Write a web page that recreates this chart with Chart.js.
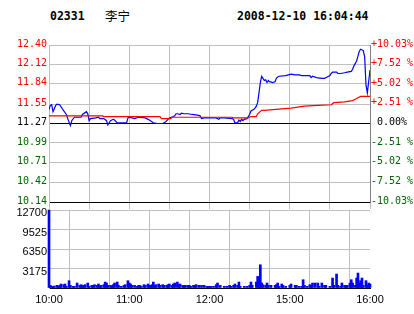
<!DOCTYPE html>
<html>
<head>
<meta charset="utf-8">
<script src="https://cdn.jsdelivr.net/npm/chart.js@4.4.1/dist/chart.umd.min.js"></script>
<style>
  body { margin: 0; background: #fff; width: 414px; height: 314px; overflow: hidden; position: relative; }
  .hd { position: absolute; top: 10px; font: bold 11.5px/12px "DejaVu Sans Mono", monospace; color: #000; white-space: pre; }
  .cn { font: 12.5px/12px "Noto Sans CJK SC", sans-serif; }
  canvas { position: absolute; left: 0; }
</style>
</head>
<body>
<div class="hd" style="left:50px">02331</div>
<div class="hd cn" style="left:105px">李宁</div>
<div class="hd" style="left:237px">2008-12-10 16:04:44</div>
<canvas id="price" width="414" height="210" style="top:0"></canvas>
<canvas id="vol" width="414" height="114" style="top:200px"></canvas>
<script>
// minutes since 10:00 (lunch break 12:30-14:30 removed, 240 = 16:00)
var priceMinutes = [
  0, 1, 2, 3, 5, 6, 8, 10, 13, 14,
  16, 17, 19, 24, 25, 28, 29, 30, 31, 35,
  37, 38, 41, 43, 44, 46, 48, 49, 51, 58,
  59, 60, 64, 67, 72, 73, 75, 78, 81, 85,
  87, 89, 90, 93, 94, 95, 96, 98, 99, 101,
  104, 107, 111, 113, 114, 116, 120, 125, 127, 128,
  131, 137, 138, 139, 141, 142, 143, 144, 145, 146,
  148, 149, 150, 151, 153, 154, 155, 156, 157, 158,
  159, 160, 161, 162, 163, 164, 165, 166, 167, 169,
  170, 171, 172, 177, 179, 181, 184, 187, 189, 195,
  196, 197, 200, 204, 206, 208, 210, 211, 212, 215,
  216, 218, 221, 223, 226, 227, 228, 230, 231, 232,
  233, 235, 236, 237, 238, 239, 240
];
var priceValues = [
  11.47, 11.53, 11.54, 11.44, 11.53, 11.55, 11.54, 11.48, 11.40, 11.34,
  11.24, 11.31, 11.36, 11.36, 11.40, 11.44, 11.41, 11.31, 11.34, 11.35,
  11.36, 11.34, 11.34, 11.31, 11.25, 11.31, 11.33, 11.32, 11.28, 11.28,
  11.35, 11.36, 11.34, 11.36, 11.35, 11.34, 11.32, 11.28, 11.27, 11.27,
  11.29, 11.33, 11.35, 11.37, 11.38, 11.41, 11.41, 11.40, 11.42, 11.41,
  11.41, 11.40, 11.39, 11.38, 11.34, 11.35, 11.35, 11.35, 11.33, 11.35,
  11.35, 11.34, 11.33, 11.28, 11.28, 11.32, 11.30, 11.33, 11.31, 11.33,
  11.34, 11.37, 11.40, 11.45, 11.47, 11.49, 11.52, 11.57, 11.71, 11.86,
  11.95, 11.92, 11.89, 11.90, 11.86, 11.89, 11.87, 11.87, 11.86, 11.87,
  11.92, 11.94, 11.95, 11.96, 11.97, 11.98, 11.97, 11.97, 11.96, 11.96,
  11.93, 11.95, 11.93, 11.92, 11.92, 11.94, 11.96, 11.99, 12.01, 12.01,
  11.99, 11.99, 12.00, 12.01, 12.02, 12.05, 12.10, 12.17, 12.24, 12.31,
  12.34, 12.32, 12.23, 11.83, 11.71, 11.87, 12.04
];
var avgMinutes = [0, 40, 41, 83, 84, 91, 92, 137, 138, 149, 151, 155, 156, 159, 161, 174, 181, 191, 201, 211, 213, 221, 227, 230, 233, 240];
var avgValues = [11.38, 11.38, 11.37, 11.37, 11.34, 11.34, 11.36, 11.36, 11.35, 11.35, 11.37, 11.37, 11.41, 11.46, 11.46, 11.48, 11.49, 11.52, 11.53, 11.54, 11.57, 11.58, 11.60, 11.63, 11.66, 11.66];

var volMinutes = [
  0, 1, 2, 3, 4, 6, 7, 8, 9, 11, 12, 13, 15, 16, 18, 19, 21, 23, 24, 25,
  26, 27, 29, 30, 32, 33, 34, 36, 37, 38, 39, 41, 42, 43, 44, 46, 47, 48, 49, 51,
  52, 54, 56, 57, 59, 60, 61, 62, 64, 66, 67, 68, 69, 71, 72, 74, 75, 76, 77, 78,
  79, 80, 82, 83, 85, 86, 88, 89, 90, 92, 93, 94, 96, 97, 98, 100, 101, 102, 104, 105,
  106, 108, 109, 110, 112, 114, 116, 118, 119, 120, 121, 123, 125, 126, 128, 131, 133, 135, 136, 138,
  139, 141, 142, 143, 146, 148, 150, 151, 152, 155, 156, 157, 158, 159, 160, 162, 163, 164, 166, 169,
  170, 171, 172, 174, 175, 177, 180, 181, 184, 185, 187, 189, 190, 191, 193, 195, 196, 197, 199, 201,
  202, 204, 206, 207, 210, 212, 213, 215, 216, 218, 219, 221, 222, 223, 225, 226, 227, 229, 230, 231,
  232, 233, 234, 235, 237, 238, 239, 240
];
var volValues = [
  12700, 430, 270, 270, 320, 430, 270, 430, 650, 540, 650, 270, 1190, 430, 270, 270, 810, 430, 540, 430,
  430, 540, 810, 270, 430, 430, 540, 430, 650, 270, 430, 540, 970, 810, 430, 430, 270, 540, 810, 970,
  430, 270, 430, 540, 1190, 810, 650, 430, 430, 270, 430, 430, 270, 540, 430, 650, 430, 430, 540, 970,
  430, 540, 650, 430, 540, 430, 430, 540, 650, 430, 650, 810, 970, 540, 650, 430, 430, 430, 430, 430,
  270, 430, 430, 540, 430, 430, 430, 270, 270, 270, 270, 270, 540, 810, 430, 270, 270, 430, 270, 430,
  650, 430, 970, 270, 270, 270, 430, 970, 430, 970, 1890, 430, 3780, 810, 540, 430, 810, 430, 430, 430,
  540, 810, 270, 650, 430, 270, 430, 650, 430, 430, 270, 270, 1350, 430, 270, 540, 430, 810, 810, 810,
  270, 810, 430, 430, 270, 1620, 430, 2270, 430, 270, 810, 430, 430, 430, 810, 1350, 810, 430, 1620, 2430,
  810, 1190, 1620, 430, 1190, 430, 810, 650
];

var prevClose = 11.27;
var priceTicks = [10.14, 10.42, 10.71, 10.99, 11.27, 11.55, 11.84, 12.12, 12.40];
var pctTicks = [-10.03, -7.52, -5.02, -2.51, 0, 2.51, 5.02, 7.52, 10.03];
var pctLabels = ['-10.03%', '-7.52 %', '-5.02 %', '-2.51 %', ' 0.00%', '+2.51 %', '+5.02 %', '+7.52 %', '+10.03%'];
var volTicks = [0, 3175, 6350, 9525, 12700];
var timeTicks = [0, 30, 60, 90, 120, 150, 180, 210, 240];
var timeLabels = ['10:00', '', '11:00', '', '12:00', '', '15:00', '', '16:00'];

var GRID = '#c0c0c0';
var RED = '#ff0000';
var GREEN = '#006600';
var BLUE = '#0000ff';
var MONO = 'DejaVu Sans Mono';
var SANS = 'Liberation Sans';

function pts(xs, ys) {
  return xs.map(function (m, i) { return { x: m, y: ys[i] }; });
}
function setTicks(list) {
  return function (s) { s.ticks = list.map(function (v) { return { value: v }; }); };
}
function signColor(v, mid) {
  if (v > mid + 1e-6) return RED;
  if (v < mid - 1e-6) return GREEN;
  return '#000';
}

Chart.defaults.animation = false;
Chart.defaults.plugins.legend.display = false;
Chart.defaults.plugins.tooltip.enabled = false;

new Chart(document.getElementById('price'), {
  type: 'line',
  data: {
    datasets: [
      { data: pts(avgMinutes, avgValues), borderColor: RED, borderWidth: 1.2, pointRadius: 0, tension: 0 },
      { data: pts(priceMinutes, priceValues), borderColor: BLUE, borderWidth: 1.2, pointRadius: 0, tension: 0 }
    ]
  },
  options: {
    responsive: false,
    layout: { padding: { top: 45, left: 0, right: 0, bottom: 0 } },
    scales: {
      x: {
        type: 'linear', min: 0, max: 240,
        afterBuildTicks: setTicks(timeTicks),
        afterFit: function (s) { s.height = 7; },
        ticks: { display: false },
        grid: { color: GRID, tickColor: GRID, drawTicks: true, tickLength: 7 },
        border: { color: '#000' }
      },
      y: {
        position: 'left', min: 10.14, max: 12.40,
        afterBuildTicks: setTicks(priceTicks),
        afterFit: function (s) { s.width = 49; },
        ticks: {
          autoSkip: false, padding: 2, labelOffset: -1,
          font: { family: MONO, size: 10 },
          color: function (c) { return signColor(c.tick.value, prevClose); },
          callback: function (v) { return v.toFixed(2); }
        },
        grid: {
          drawTicks: false,
          color: function (c) {
            var v = c.tick.value;
            return (Math.abs(v - prevClose) < 1e-6 || Math.abs(v - 10.14) < 1e-6) ? '#000' : GRID;
          }
        },
        border: { color: GRID }
      },
      y2: {
        position: 'right', min: -10.03, max: 10.03,
        afterBuildTicks: setTicks(pctTicks),
        afterFit: function (s) { s.width = 44; },
        ticks: {
          autoSkip: false, padding: 1, labelOffset: -1,
          font: { family: MONO, size: 10 },
          color: function (c) { return signColor(c.tick.value, 0); },
          callback: function (v, i) { return pctLabels[i]; }
        },
        grid: { display: false, drawTicks: false },
        border: { color: '#808080' }
      }
    }
  }
});

new Chart(document.getElementById('vol'), {
  type: 'bar',
  data: {
    datasets: [
      { data: pts(volMinutes, volValues), backgroundColor: BLUE, borderWidth: 0, barThickness: 2, clip: false }
    ]
  },
  options: {
    responsive: false,
    layout: { padding: { top: 10, left: 0, right: 44, bottom: 0 } },
    scales: {
      x: {
        type: 'linear', min: 0, max: 240, offset: false,
        afterBuildTicks: setTicks(timeTicks),
        afterFit: function (s) { s.height = 26; },
        ticks: {
          autoSkip: false, maxRotation: 0, padding: 5, color: '#000',
          font: { family: SANS, size: 11 },
          callback: function (v, i) { return timeLabels[i]; }
        },
        grid: { color: GRID, drawTicks: false },
        border: { color: '#000' }
      },
      y: {
        min: 0, max: 12700,
        afterBuildTicks: setTicks(volTicks),
        afterFit: function (s) { s.width = 49; },
        ticks: {
          autoSkip: false, padding: 2, color: '#000', labelOffset: 3,
          font: { family: SANS, size: 11 },
          callback: function (v) { return v === 0 ? '' : String(v); }
        },
        grid: {
          drawTicks: false,
          color: function (c) { return c.tick.value === 0 ? '#000' : GRID; }
        },
        border: { color: GRID }
      }
    }
  }
});
</script>
</body>
</html>
